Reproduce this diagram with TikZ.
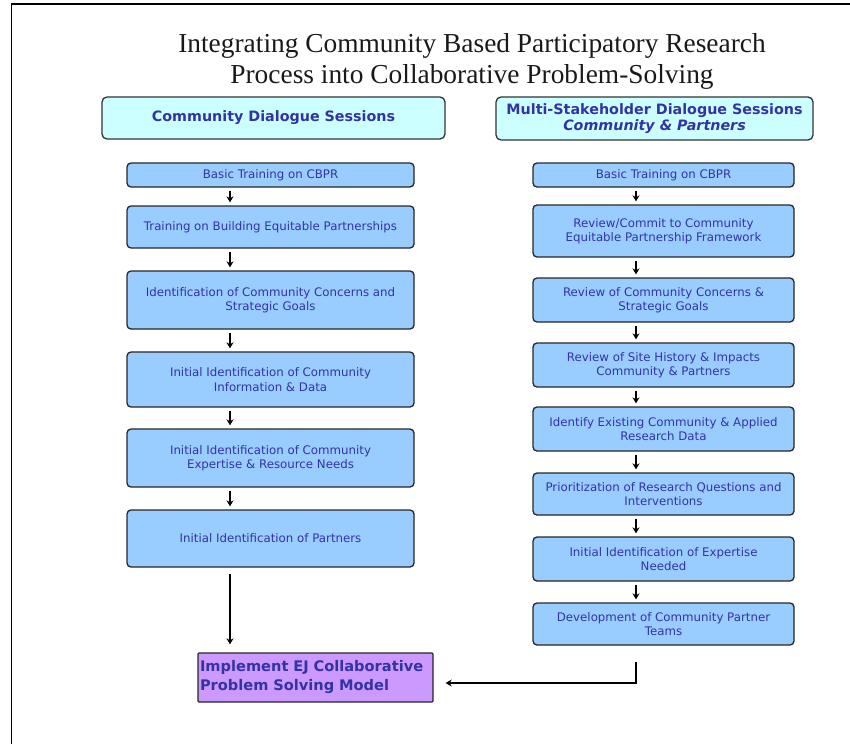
\documentclass[tikz,border=0pt]{standalone}
\usepackage{fontspec}
\setmainfont{DejaVu Sans}
\newfontfamily\titlefont{Liberation Serif}
\usetikzlibrary{arrows.meta}

\definecolor{boxblue}{RGB}{153,204,255}
\definecolor{headcyan}{RGB}{204,255,255}
\definecolor{implpurple}{RGB}{204,153,255}
\definecolor{textnavy}{RGB}{51,51,165}

\begin{document}
\begin{tikzpicture}[x=1pt, y=-1pt,
    stepbox/.style={draw=black!85, line width=1.3pt, rounded corners=4pt, fill=boxblue,
        text=textnavy, align=center, inner sep=0pt, font=\fontsize{11.8}{14.5}\selectfont},
    lcol/.style={stepbox, minimum width=287pt},
    rcol/.style={stepbox, minimum width=261pt},
    headbox/.style={draw=black!80, line width=1.3pt, rounded corners=5pt, fill=headcyan,
        text=textnavy, align=center, inner sep=0pt, font=\bfseries\fontsize{14.3}{16}\selectfont},
    flow/.style={-{Stealth[length=6pt,width=7pt]}, line width=1.4pt}]
    \useasboundingbox (0,0) rectangle (850,744);

    % Frame
    \draw[line width=1.5pt] (11.5,744) -- (11.5,4) -- (850,4);

    % Title
    \node[align=center, font=\titlefont\fontsize{27.4}{31}\selectfont, text=black!90] (title) at (472,61)
        {Integrating Community Based Participatory Research\\Process into Collaborative Problem-Solving};

    % Headers
    \node[headbox, minimum width=343pt, minimum height=42pt] (lhead) at (273.5,118)
        {Community Dialogue Sessions};
    \node[headbox, minimum width=317pt, minimum height=43pt] (rhead) at (654.5,118.5)
        {Multi-Stakeholder Dialogue Sessions\\\textit{Community \& Partners}};

    % Community column
    \node[lcol, minimum height=24pt] (l1) at (270.5,175) {Basic Training on CBPR};
    \node[lcol, minimum height=42pt] (l2) at (270.5,227) {Training on Building Equitable Partnerships};
    \node[lcol, minimum height=58pt] (l3) at (270.5,300) {Identification of Community Concerns and\\Strategic Goals};
    \node[lcol, minimum height=55pt] (l4) at (270.5,379.5) {Initial Identification of Community\\Information \& Data};
    \node[lcol, minimum height=58pt] (l5) at (270.5,458) {Initial Identification of Community\\Expertise \& Resource Needs};
    \node[lcol, minimum height=57pt] (l6) at (270.5,538.5) {Initial Identification of Partners};

    % Multi-stakeholder column
    \node[rcol, minimum height=24pt] (r1) at (663.5,175) {Basic Training on CBPR};
    \node[rcol, minimum height=52pt] (r2) at (663.5,231) {Review/Commit to Community\\Equitable Partnership Framework};
    \node[rcol, minimum height=44pt] (r3) at (663.5,300) {Review of Community Concerns \&\\Strategic Goals};
    \node[rcol, minimum height=44pt] (r4) at (663.5,365) {Review of Site History \& Impacts\\Community \& Partners};
    \node[rcol, minimum height=44pt] (r5) at (663.5,429) {Identify Existing Community \& Applied\\Research Data};
    \node[rcol, minimum height=42pt] (r6) at (663.5,494) {Prioritization of Research Questions and\\Interventions};
    \node[rcol, minimum height=44pt] (r7) at (663.5,559) {Initial Identification of Expertise\\Needed};
    \node[rcol, minimum height=42pt] (r8) at (663.5,624) {Development of Community Partner\\Teams};

    % Model
    \node[draw=black!85, line width=1.3pt, rounded corners=1pt, fill=implpurple, text=textnavy,
        minimum width=235pt, minimum height=49pt, text width=231pt, inner xsep=2pt, align=left,
        font=\bfseries\fontsize{14.6}{19}\selectfont] (impl) at (315.5,677.5)
        {Implement EJ Collaborative\\Problem Solving Model};

    % Arrows
    \coordinate (lax) at (230,0);
    \coordinate (rax) at (636,0);
    \foreach \a/\b in {l1/l2, l2/l3, l3/l4, l4/l5, l5/l6}
        \draw[flow, shorten <=3pt, shorten >=3pt] (\a.south -| lax) -- (\b.north -| lax);
    \foreach \a/\b in {r1/r2, r2/r3, r3/r4, r4/r5, r5/r6, r6/r7, r7/r8}
        \draw[flow, shorten <=3pt, shorten >=3pt] (\a.south -| rax) -- (\b.north -| rax);
    \draw[flow, shorten <=6pt, shorten >=8pt] (l6.south -| lax) -- (impl.north -| lax);
    \draw[flow, shorten <=16pt, shorten >=12pt] (r8.south -| rax) |- ([yshift=-5.5pt]impl.east);
\end{tikzpicture}
\end{document}
